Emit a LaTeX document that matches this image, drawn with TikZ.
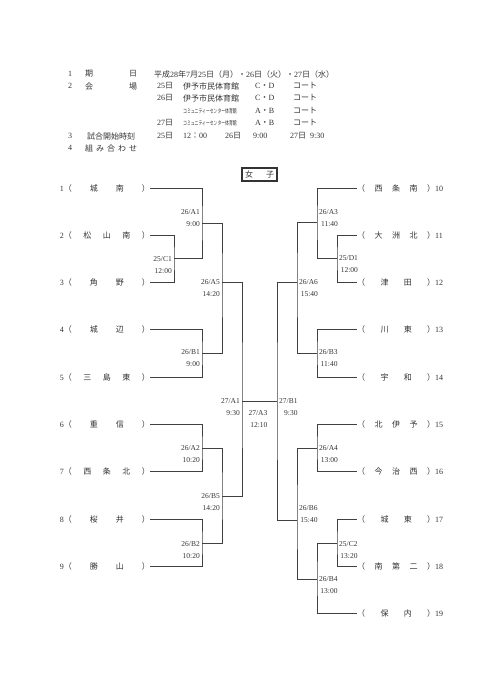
\documentclass[tikz,border=0pt]{standalone}
\usepackage{fontspec}
\setmainfont{Liberation Serif}
\newfontfamily\jp{Noto Sans CJK JP}
\usepackage{tikz}
\usetikzlibrary{positioning}

\definecolor{ink}{gray}{0.2}
\definecolor{rule}{gray}{0.25}

\newcommand\ja[1]{{\jp #1}}
\newcommand\squeezed[1]{\scalebox{0.48}[0.75]{\jp #1}}
\newcommand\lname[2]{#1{\jp （\makebox[70pt]{\hfill #2\hfill}）}}
\newcommand\rname[2]{{\jp （\makebox[62pt]{\hfill #2\hfill}）}#1}

\begin{document}
\begin{tikzpicture}[x=1pt,y=-1pt,
  every node/.style={text=ink,font=\fontsize{8}{12}\selectfont},
  hd/.style={anchor=west,inner sep=0pt},
  lteam/.style={anchor=east,inner sep=0pt},
  rteam/.style={anchor=west,inner sep=0pt},
  game/.style={align=right,inner sep=0pt,font=\fontsize{7.5}{12}\selectfont},
  bracket/.style={draw=rule,line width=0.85pt}]
  \useasboundingbox (0,0) rectangle (481,680);

  % header
  \node[hd] (n1) at (68,74) {1};
  \node[hd] (k1) at (85,74) {\ja{\makebox[52pt]{期\hfill 日}}};
  \node[hd] (v1) at (154,74) {\ja{平成}28\ja{年}7\ja{月}25\ja{日（月）・}26\ja{日（火）・}27\ja{日（水）}};
  \node[hd] (n2) at (68,86) {2};
  \node[hd] (k2) at (85,86) {\ja{\makebox[52pt]{会\hfill 場}}};
  \node[hd] (d2) at (157,86) {25\ja{日}};
  \node[hd] (p2) at (183,86) {\ja{伊予市民体育館}};
  \node[hd] (c2) at (255,86) {C\ja{・}D};
  \node[hd] (e2) at (293,86) {\ja{コート}};
  \node[hd] (d3) at (157,98) {26\ja{日}};
  \node[hd] (p3) at (183,98) {\ja{伊予市民体育館}};
  \node[hd] (c3) at (255,98) {C\ja{・}D};
  \node[hd] (e3) at (293,98) {\ja{コート}};
  \node[hd] (p4) at (183,111) {\squeezed{コミュニティーセンター体育館}};
  \node[hd] (c4) at (255,111) {A\ja{・}B};
  \node[hd] (e4) at (293,111) {\ja{コート}};
  \node[hd] (d5) at (157,123) {27\ja{日}};
  \node[hd] (p5) at (183,123) {\squeezed{コミュニティーセンター体育館}};
  \node[hd] (c5) at (255,123) {A\ja{・}B};
  \node[hd] (e5) at (293,123) {\ja{コート}};
  \node[hd] (n6) at (68,136) {3};
  \node[hd] (k6) at (85,136) {\ja{\makebox[52pt]{試合開始時刻}}};
  \node[hd] (d6) at (157,136) {25\ja{日}};
  \node[hd] (s6) at (183,136) {12\ja{：}00};
  \node[hd] (d7) at (225,136) {26\ja{日}};
  \node[hd] (s7) at (253,136) {9:00};
  \node[hd] (d8) at (290,136) {27\ja{日}};
  \node[hd] (s8) at (310,136) {9:30};
  \node[hd] (n7) at (68,148) {4};
  \node[hd] (k7) at (85,148) {\ja{\makebox[52pt]{組\hfill み\hfill 合\hfill わ\hfill せ}}};

  \node[draw=ink,line width=1.2pt,minimum width=35pt,minimum height=13pt,inner sep=0pt]
    (girls) at (259.5,174.5) {\ja{\makebox[29pt]{女\hfill 子}}};

  % teams, left
  \node[lteam] (t1) at (150,188)   {\lname{1}{城\hfill 南}};
  \node[lteam] (t2) at (150,235.3) {\lname{2}{松\hfill 山\hfill 南}};
  \node[lteam] (t3) at (150,282.6) {\lname{3}{角\hfill 野}};
  \node[lteam] (t4) at (150,329.9) {\lname{4}{城\hfill 辺}};
  \node[lteam] (t5) at (150,377.2) {\lname{5}{三\hfill 島\hfill 東}};
  \node[lteam] (t6) at (150,424.5) {\lname{6}{重\hfill 信}};
  \node[lteam] (t7) at (150,471.8) {\lname{7}{西\hfill 条\hfill 北}};
  \node[lteam] (t8) at (150,519.1) {\lname{8}{桜\hfill 井}};
  \node[lteam] (t9) at (150,566.4) {\lname{9}{勝\hfill 山}};
  % teams, right
  \node[rteam] (t10) at (357,188)   {\rname{10}{西\hfill 条\hfill 南}};
  \node[rteam] (t11) at (357,235.3) {\rname{11}{大\hfill 洲\hfill 北}};
  \node[rteam] (t12) at (357,282.6) {\rname{12}{津\hfill 田}};
  \node[rteam] (t13) at (357,329.9) {\rname{13}{川\hfill 東}};
  \node[rteam] (t14) at (357,377.2) {\rname{14}{宇\hfill 和}};
  \node[rteam] (t15) at (357,424.5) {\rname{15}{北\hfill 伊\hfill 予}};
  \node[rteam] (t16) at (357,471.8) {\rname{16}{今\hfill 治\hfill 西}};
  \node[rteam] (t17) at (357,519.1) {\rname{17}{城\hfill 東}};
  \node[rteam] (t18) at (357,566.4) {\rname{18}{南\hfill 第\hfill 二}};
  \node[rteam] (t19) at (357,613.7) {\rname{19}{保\hfill 内}};

  % match points
  \coordinate (C1) at (174,258.5);
  \coordinate (A1) at (202,223);
  \coordinate (B1) at (202,353);
  \coordinate (A2) at (202,448);
  \coordinate (B2) at (202,543);
  \coordinate (A5) at (222,282);
  \coordinate (B5) at (222,496);
  \coordinate (FA1) at (242,401);
  \coordinate (D1) at (337,258.5);
  \coordinate (A3) at (317,222);
  \coordinate (B3) at (317,353);
  \coordinate (A4) at (317,448);
  \coordinate (C2) at (337,543);
  \coordinate (B4) at (317,579);
  \coordinate (A6) at (297,282);
  \coordinate (B6) at (297,520);
  \coordinate (FB1) at (277,401);

  % left half
  \draw[bracket] (t2.east) -| (C1) |- (t3.east);
  \draw[bracket] (t1.east) -| (A1) |- (C1);
  \draw[bracket] (t4.east) -| (B1) |- (t5.east);
  \draw[bracket] (t6.east) -| (A2) |- (t7.east);
  \draw[bracket] (t8.east) -| (B2) |- (t9.east);
  \draw[bracket] (A1) -| (A5) |- (B1);
  \draw[bracket] (A2) -| (B5) |- (B2);
  \draw[bracket] (A5) -| (FA1) |- (B5);
  % right half
  \draw[bracket] (t11.west) -| (D1) |- (t12.west);
  \draw[bracket] (t10.west) -| (A3) |- (D1);
  \draw[bracket] (t13.west) -| (B3) |- (t14.west);
  \draw[bracket] (t15.west) -| (A4) |- (t16.west);
  \draw[bracket] (t17.west) -| (C2) |- (t18.west);
  \draw[bracket] (C2) -| (B4) |- (t19.west);
  \draw[bracket] (A3) -| (A6) |- (B3);
  \draw[bracket] (A4) -| (B6) |- (B4);
  \draw[bracket] (A6) -| (FB1) |- (B6);
  % final
  \draw[bracket] (FA1) -- (FB1);

  % game labels
  \node[game,anchor=east] (gC1) at (172,265) {25/C1\\12:00};
  \node[game,anchor=east] (gA1) at (200,218) {26/A1\\9:00};
  \node[game,anchor=east] (gB1) at (200,358) {26/B1\\9:00};
  \node[game,anchor=east] (gA2) at (200,454) {26/A2\\10:20};
  \node[game,anchor=east] (gB2) at (200,550) {26/B2\\10:20};
  \node[game,anchor=east] (gA5) at (220,288) {26/A5\\14:20};
  \node[game,anchor=east] (gB5) at (220,502) {26/B5\\14:20};
  \node[game,anchor=east] (gFA1) at (240,407) {27/A1\\9:30};
  \node[game,anchor=west] (gD1) at (339,264) {25/D1\\12:00};
  \node[game,anchor=west] (gA3) at (319,218) {26/A3\\11:40};
  \node[game,anchor=west] (gB3) at (319,358) {26/B3\\11:40};
  \node[game,anchor=west] (gA4) at (319,454) {26/A4\\13:00};
  \node[game,anchor=west] (gC2) at (339,550) {25/C2\\13:20};
  \node[game,anchor=west] (gB4) at (319,585) {26/B4\\13:00};
  \node[game,anchor=west] (gA6) at (299,288) {26/A6\\15:40};
  \node[game,anchor=west] (gB6) at (299,514) {26/B6\\15:40};
  \node[game,anchor=west] (gFB1) at (279,407) {27/B1\\9:30};
  \node[game] (gA3f) at (258,419) {27/A3\\12:10};
\end{tikzpicture}
\end{document}
